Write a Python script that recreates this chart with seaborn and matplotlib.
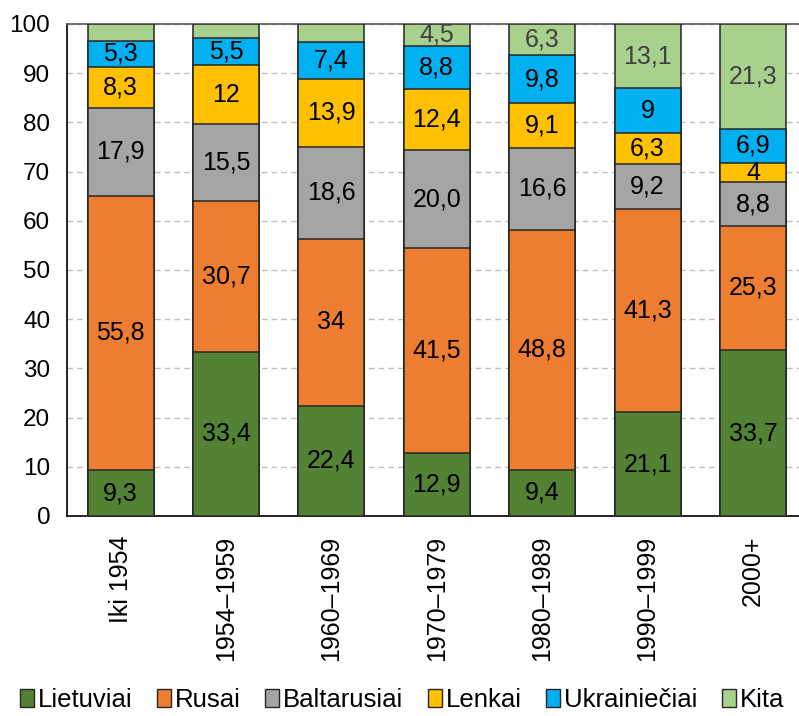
import matplotlib
matplotlib.use("Agg")
import matplotlib.pyplot as plt
import seaborn as sns
import pandas as pd
import numpy as np
from matplotlib.patches import Patch

categories = ["Iki 1954", "1954–1959", "1960–1969", "1970–1979", "1980–1989", "1990–1999", "2000+"]
series_names = ["Lietuviai", "Rusai", "Baltarusiai", "Lenkai", "Ukrainiečiai", "Kita"]
lietuviai = [9.3, 33.4, 22.4, 12.9, 9.4, 21.1, 33.7]
rusai = [55.8, 30.7, 34.0, 41.5, 48.8, 41.3, 25.3]
baltarusiai = [17.9, 15.5, 18.6, 20.0, 16.6, 9.2, 8.8]
lenkai = [8.3, 12.0, 13.9, 12.4, 9.1, 6.3, 4.0]
ukrainieciai = [5.3, 5.5, 7.4, 8.8, 9.8, 9.0, 6.9]
kita = [3.4, 2.9, 3.7, 4.5, 6.3, 13.1, 21.3]

lbl_lietuviai = ["9,3", "33,4", "22,4", "12,9", "9,4", "21,1", "33,7"]
lbl_rusai = ["55,8", "30,7", "34", "41,5", "48,8", "41,3", "25,3"]
lbl_baltarusiai = ["17,9", "15,5", "18,6", "20,0", "16,6", "9,2", "8,8"]
lbl_lenkai = ["8,3", "12", "13,9", "12,4", "9,1", "6,3", "4"]
lbl_ukrainieciai = ["5,3", "5,5", "7,4", "8,8", "9,8", "9", "6,9"]
lbl_kita = ["", "", "", "4,5", "6,3", "13,1", "21,3"]

colors = ["#548235", "#ED7D31", "#A5A5A5", "#FFC000", "#00B0F0", "#A9D18E"]
text_colors = ["black", "black", "black", "black", "black", "#404040"]

values = [lietuviai, rusai, baltarusiai, lenkai, ukrainieciai, kita]
labels = [lbl_lietuviai, lbl_rusai, lbl_baltarusiai, lbl_lenkai, lbl_ukrainieciai, lbl_kita]

sns.set_theme(style="white")
plt.rcParams["font.family"] = ["Liberation Sans", "DejaVu Sans"]
plt.rcParams["text.color"] = "black"

fig = plt.figure(figsize=(7.99, 7.16), dpi=100)
ax = fig.add_axes([67/799, 200/716, 732/799, 492/716])

arr = np.array(values)
cum = np.cumsum(arr, axis=0)

# draw from top cumulative down so lower segments overlay
for i in range(len(series_names) - 1, -1, -1):
    df = pd.DataFrame({"cat": categories, "val": cum[i]})
    sns.barplot(data=df, x="cat", y="val", color=colors[i], width=0.626,
                edgecolor="#262626", linewidth=1.1, saturation=1, ax=ax, zorder=3)

for i in range(len(series_names)):
    bottoms = cum[i] - arr[i]
    for j in range(len(categories)):
        if labels[i][j]:
            y = bottoms[j] + arr[i][j] / 2
            if i == 5:
                y = min(y, 98.0)
            ax.text(j, y, labels[i][j], ha="center", va="center",
                    fontsize=18, color=text_colors[i], zorder=5)

ax.set_xlim(-0.508, 6.437)
ax.set_ylim(0, 100)
ax.set_yticks(range(0, 101, 10))
ax.yaxis.grid(True, linestyle=(0, (4, 3)), color="#BFBFBF", linewidth=1, zorder=0)
ax.set_axisbelow(True)
ax.set_xlabel("")
ax.set_ylabel("")
ax.tick_params(axis="y", labelsize=17.5, length=0, pad=12, colors="black")
ax.tick_params(axis="x", labelsize=18, length=0, pad=14, colors="black")
plt.setp(ax.get_xticklabels(), rotation=90)
for s in ["left", "bottom"]:
    ax.spines[s].set_color("black")
    ax.spines[s].set_linewidth(1.2)
ax.spines["top"].set_color("#595959")
ax.spines["top"].set_linewidth(1.2)
ax.spines["right"].set_visible(False)

handles = [Patch(facecolor=colors[i], edgecolor="#262626", linewidth=1, label=series_names[i])
           for i in range(len(series_names))]
leg = fig.legend(handles=handles, loc="center", bbox_to_anchor=(0.503, 16/716), ncol=6,
                 frameon=False, fontsize=18.5, handlelength=0.55, handleheight=0.75,
                 handletextpad=0.15, columnspacing=0.95, borderpad=0)
for t in leg.get_texts():
    t.set_color("black")

fig.savefig("out.png", dpi=100)
